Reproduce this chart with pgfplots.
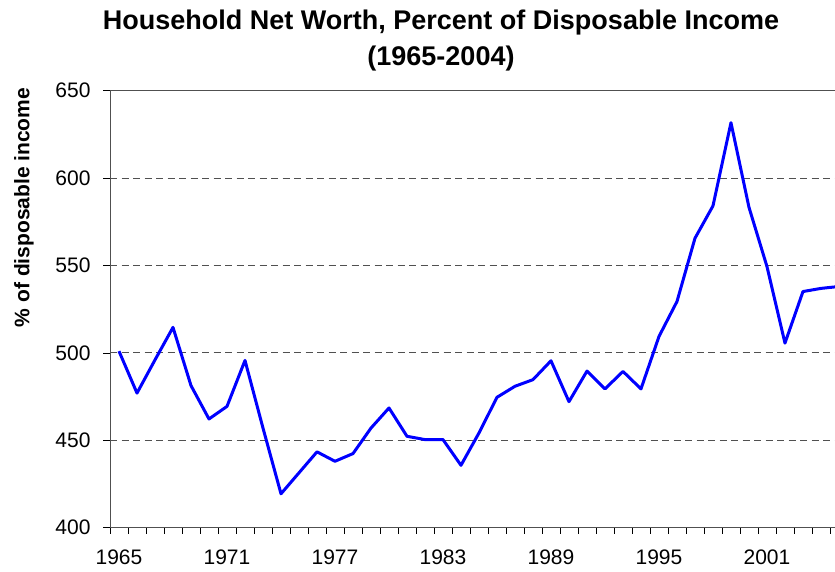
\documentclass[border=0pt]{standalone}
\usepackage{fontspec}
\setmainfont{Liberation Sans}
\usepackage{pgfplots}
\pgfplotsset{compat=1.18}
\definecolor{gridgray}{RGB}{80,80,80}
\begin{document}
\begin{tikzpicture}
\useasboundingbox (0,0) rectangle (835pt,571pt);
\begin{axis}[
  at={(110pt,43.3pt)}, anchor=south west,
  scale only axis, width=725pt, height=437pt,
  xmin=1964.5, xmax=2004.78, ymin=400, ymax=650,
  axis x line*=bottom, axis y line*=left,
  axis line style={draw=gridgray, line width=1pt, -},
  xtick={1965,1971,1977,1983,1989,1995,2001},
  minor xtick={1964.5,1965.5,...,2004.5},
  major x tick style={draw=none},
  minor tick length=6pt, major tick length=7pt,
  tick align=outside,
  tick style={black, line width=0.8pt},
  ytick={400,450,...,650},
  ymajorgrids,
  major grid style={draw=gridgray, line width=0.9pt, dash pattern=on 7pt off 4.5pt},
  /pgf/number format/assume math mode=true,
  /pgf/number format/1000 sep={},
  ticklabel style={font=\fontsize{21}{24}\selectfont},
  xticklabel style={yshift=-14pt, inner sep=1pt},
  yticklabel style={xshift=-9pt},
  clip=true,
]
\addplot[blue, line width=3pt, line join=round] coordinates {
(1965,501) (1966,477) (1967,496) (1968,514.6) (1969,481.3) (1970,462.2)
(1971,469.4) (1972,495.7) (1973,457) (1974,419.4) (1975,431.4) (1976,443.4)
(1977,438) (1978,442.4) (1979,457) (1980,468.5) (1981,452.3) (1982,450.4)
(1983,450.4) (1984,435.7) (1985,454.2) (1986,474.6) (1987,480.9) (1988,484.7)
(1989,495.5) (1990,472.1) (1991,489.6) (1992,479.4) (1993,489.4) (1994,479.4)
(1995,509.4) (1996,529.4) (1997,565.6) (1998,584.1) (1999,631.7) (2000,583.3)
(2001,549.4) (2002,505.6) (2003,535.1) (2004,536.9) (2005,538)
};
\draw[gridgray, line width=1pt] (rel axis cs:0,1) -- (rel axis cs:1,1);
\end{axis}
\node[anchor=base, font=\bfseries\fontsize{27}{30}\selectfont] at (441pt,541pt) {Household Net Worth, Percent of Disposable Income};
\node[anchor=base, font=\bfseries\fontsize{27}{30}\selectfont] at (441pt,505pt) {(1965-2004)};
\node[rotate=90, font=\bfseries\fontsize{21}{24}\selectfont] at (24pt,363.5pt) {\% of disposable income};
\end{tikzpicture}
\end{document}
